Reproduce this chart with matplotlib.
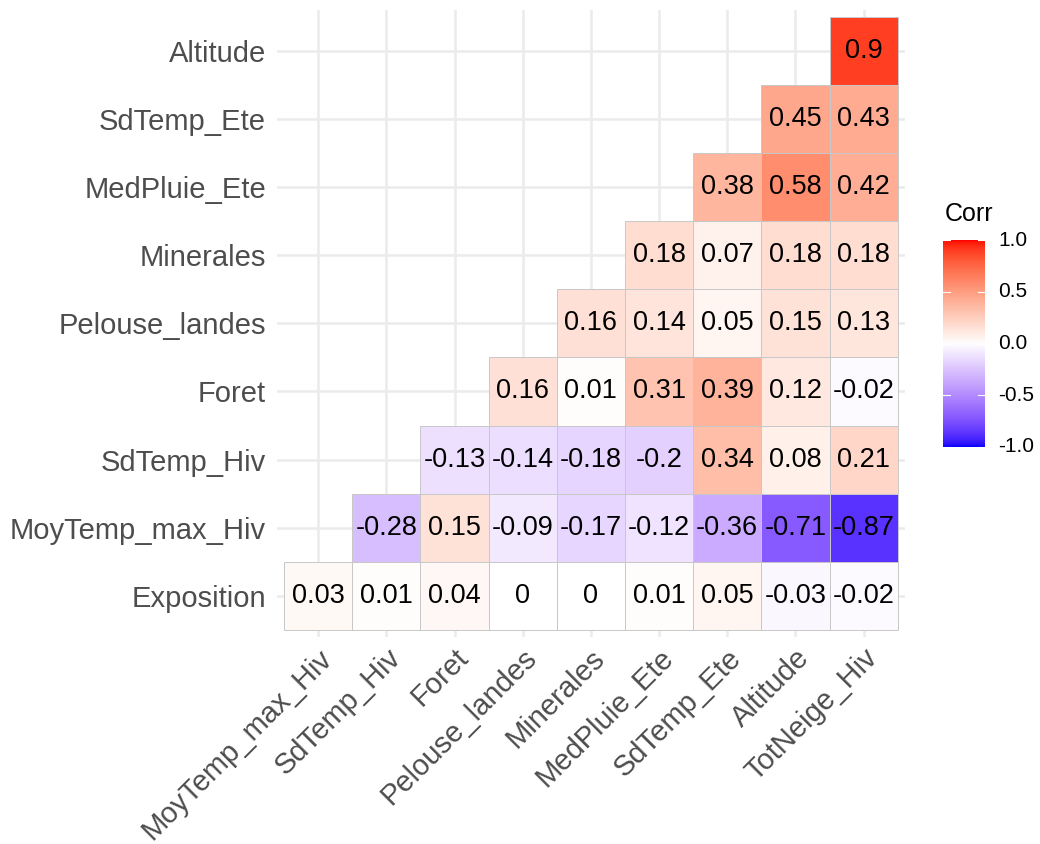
import numpy as np
import matplotlib
matplotlib.use("Agg")
import matplotlib.pyplot as plt
from matplotlib.colors import ListedColormap, Normalize
from matplotlib.patches import Rectangle

plt.rcParams["font.family"] = ["Liberation Sans", "DejaVu Sans"]

# Variables along each axis (lower-triangular correlation matrix)
x_vars = ["MoyTemp_max_Hiv", "SdTemp_Hiv", "Foret", "Pelouse_landes", "Minerales",
          "MedPluie_Ete", "SdTemp_Ete", "Altitude", "TotNeige_Hiv"]
y_vars = ["Exposition", "MoyTemp_max_Hiv", "SdTemp_Hiv", "Foret", "Pelouse_landes",
          "Minerales", "MedPluie_Ete", "SdTemp_Ete", "Altitude"]

# One list per y variable; row i holds the values for x columns i..8
corr_exposition = [0.03, 0.01, 0.04, 0, 0, 0.01, 0.05, -0.03, -0.02]
corr_moytemp_max_hiv = [-0.28, 0.15, -0.09, -0.17, -0.12, -0.36, -0.71, -0.87]
corr_sdtemp_hiv = [-0.13, -0.14, -0.18, -0.2, 0.34, 0.08, 0.21]
corr_foret = [0.16, 0.01, 0.31, 0.39, 0.12, -0.02]
corr_pelouse_landes = [0.16, 0.14, 0.05, 0.15, 0.13]
corr_minerales = [0.18, 0.07, 0.18, 0.18]
corr_medpluie_ete = [0.38, 0.58, 0.42]
corr_sdtemp_ete = [0.45, 0.43]
corr_altitude = [0.9]

corr_rows = [corr_exposition, corr_moytemp_max_hiv, corr_sdtemp_hiv, corr_foret,
             corr_pelouse_landes, corr_minerales, corr_medpluie_ete,
             corr_sdtemp_ete, corr_altitude]

legend_ticks = [-1.0, -0.5, 0.0, 0.5, 1.0]


# --- diverging blue-white-red palette interpolated in CIE Lab ---
_M = np.array([[0.4124564, 0.3575761, 0.1804375],
               [0.2126729, 0.7151522, 0.0721750],
               [0.0193339, 0.1191920, 0.9503041]])
_WHITE = np.array([0.95047, 1.0, 1.08883])


def srgb_to_lab(rgb):
    rgb = np.asarray(rgb, float)
    lin = np.where(rgb <= 0.04045, rgb / 12.92, ((rgb + 0.055) / 1.055) ** 2.4)
    xyz = _M @ lin / _WHITE
    d = 6 / 29
    f = np.where(xyz > d ** 3, np.cbrt(xyz), xyz / (3 * d * d) + 4 / 29)
    return np.array([116 * f[1] - 16, 500 * (f[0] - f[1]), 200 * (f[1] - f[2])])


def lab_to_srgb(lab):
    L, a, b = lab
    fy = (L + 16) / 116
    fx = fy + a / 500
    fz = fy - b / 200
    d = 6 / 29
    f = np.array([fx, fy, fz])
    xyz = np.where(f > d, f ** 3, 3 * d * d * (f - 4 / 29)) * _WHITE
    lin = np.linalg.solve(_M, xyz)
    lin = np.clip(lin, 0, 1)
    rgb = np.where(lin <= 0.0031308, 12.92 * lin, 1.055 * lin ** (1 / 2.4) - 0.055)
    return np.clip(rgb, 0, 1)


low_lab = srgb_to_lab([0, 0, 1])
mid_lab = srgb_to_lab([1, 1, 1])
high_lab = srgb_to_lab([1, 0, 0])

colors = []
for v in np.linspace(-1, 1, 301):
    if v < 0:
        t = v + 1
        lab = low_lab + (mid_lab - low_lab) * t
    else:
        lab = mid_lab + (high_lab - mid_lab) * v
    colors.append(lab_to_srgb(lab))
cmap = ListedColormap(colors)
norm = Normalize(-1, 1)

# --- figure ---
W, H = 1040, 844
fig = plt.figure(figsize=(W / 100, H / 100), dpi=100)
fig.patch.set_facecolor("white")

ax = fig.add_axes([277.2 / W, 1 - 636.8 / H, 627.4 / W, 627.0 / H])
ax.set_xlim(-0.6, 8.6)
ax.set_ylim(-0.6, 8.6)
for s in ax.spines.values():
    s.set_visible(False)

ax.set_xticks(range(len(x_vars)))
ax.set_yticks(range(len(y_vars)))
ax.set_xticklabels(x_vars, rotation=45, ha="right", va="top",
                   rotation_mode="anchor", fontsize=21, color="#4D4D4D")
ax.set_yticklabels(y_vars, fontsize=21, color="#4D4D4D")
ax.tick_params(axis="both", length=0)
ax.tick_params(axis="y", pad=8)
ax.tick_params(axis="x", pad=5)
ax.set_axisbelow(True)
ax.grid(True, color="#EBEBEB", linewidth=1.8)

for i, row in enumerate(corr_rows):
    for k, v in enumerate(row):
        j = i + k
        ax.add_patch(Rectangle((j - 0.5, i - 0.5), 1, 1,
                               facecolor=cmap(norm(v)), edgecolor="#C8C8C8",
                               linewidth=0.7, zorder=2))
        ax.text(j, i, f"{v:g}", ha="center", va="center", fontsize=19.5,
                color="black", zorder=3)

# --- colourbar legend ---
cax = fig.add_axes([943 / W, 1 - 447 / H, 42 / W, 207 / H])
grad = np.linspace(-1, 1, 300).reshape(-1, 1)
cax.imshow(grad, cmap=cmap, norm=norm, origin="lower", aspect="auto",
           extent=(0, 1, -1, 1))
cax.set_xlim(0, 1)
cax.set_ylim(-1, 1)
cax.axis("off")
for v in legend_ticks:
    cax.plot([0, 0.17], [v, v], color="white", linewidth=0.8)
    cax.plot([0.83, 1], [v, v], color="white", linewidth=0.8)
    cax.text(1.31, v, f"{v:.1f}", ha="left", va="center", fontsize=15,
             color="black", clip_on=False)

fig.text(945 / W, 1 - 214 / H, "Corr", ha="left", va="center", fontsize=18,
         color="black")

fig.savefig("out.png", dpi=100)
